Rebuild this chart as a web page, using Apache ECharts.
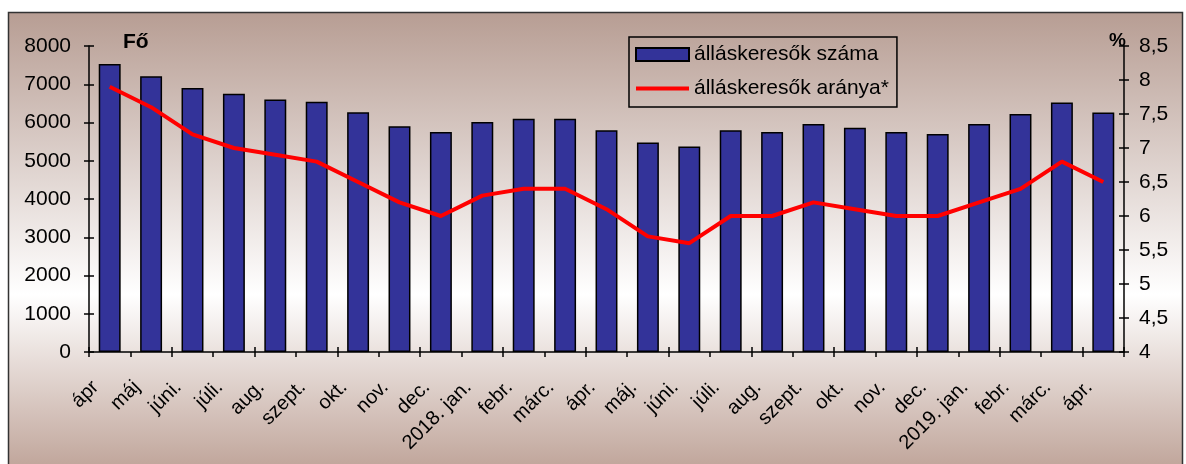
<!DOCTYPE html>
<html>
    <head>
        <meta charset="utf-8">
        <title>Álláskeresők</title>
        <script src="https://cdn.jsdelivr.net/npm/echarts@6/dist/echarts.min.js"></script>
        <style>
            html, body { margin: 0; padding: 0; background: #fff; }
        </style>
    </head>
    <body>
        <div id="chart1" style="width: 1186px;height: 464px"></div>
    </body>

    <script type="text/javascript">
        // adatok
        var honapok = ['ápr', 'máj', 'júni.', 'júli.', 'aug.', 'szept.', 'okt.', 'nov.', 'dec.', '2018. jan.',
            'febr.', 'márc.', 'ápr.', 'máj.', 'júni.', 'júli.', 'aug.', 'szept.', 'okt.', 'nov.', 'dec.',
            '2019. jan.', 'febr.', 'márc.', 'ápr.'];
        var letszam = [7530, 7210, 6900, 6750, 6600, 6540, 6270, 5900, 5750, 6010,
            6100, 6100, 5800, 5480, 5370, 5800, 5750, 5960, 5860, 5750, 5700,
            5960, 6220, 6520, 6260];
        var arany = [7.9, 7.6, 7.2, 7.0, 6.9, 6.8, 6.5, 6.2, 6.0, 6.3,
            6.4, 6.4, 6.1, 5.7, 5.6, 6.0, 6.0, 6.2, 6.1, 6.0, 6.0,
            6.2, 6.4, 6.8, 6.5];
        var nevek = ['álláskeresők száma', 'álláskeresők aránya*'];

        var font = 'Arial, "Liberation Sans", sans-serif';
        var myChart1 = echarts.init(document.getElementById('chart1'));

        var tengely = { show: true, lineStyle: { color: '#000', width: 1.5 } };
        var tick = { show: true, length: 5, lineStyle: { color: '#000', width: 1.5 } };
        var belsoTick = { show: true, inside: true, length: 5, lineStyle: { color: '#000', width: 1.5 } };

        myChart1.setOption({
            animation: false,
            graphic: [
                {
                    type: 'rect', z: -10,
                    shape: { x: 8.5, y: 12.5, width: 1174, height: 470 },
                    style: {
                        fill: new echarts.graphic.LinearGradient(0, 0, 0, 1, [
                            { offset: 0, color: '#b79d93' },
                            { offset: 0.6, color: '#ffffff' },
                            { offset: 0.98, color: '#bea297' }
                        ]),
                        stroke: '#333', lineWidth: 1.5
                    }
                },
                {
                    type: 'text', left: 123, top: 32,
                    style: { text: 'Fő', font: 'bold 21px ' + font, fill: '#000' }
                },
                {
                    type: 'text', left: 1109, top: 31,
                    style: { text: '%', font: 'bold 19px ' + font, fill: '#000' }
                }
            ],
            grid: { left: 89, right: 62, top: 46, bottom: 112, containLabel: false },
            legend: {
                orient: 'vertical',
                left: 629, top: 37,
                padding: [7, 8, 8, 6],
                itemGap: 13,
                itemWidth: 53, itemHeight: 13,
                borderColor: '#000', borderWidth: 1.5,
                textStyle: { fontFamily: font, fontSize: 21, color: '#000' },
                data: [
                    { name: nevek[0], icon: 'rect' },
                    { name: nevek[1], icon: 'path://M0,0 L53,0 L53,4 L0,4 Z', itemStyle: { color: '#ff0000', borderWidth: 0 } }
                ]
            },
            xAxis: [
                {
                    type: 'category', data: honapok,
                    axisLine: tengely,
                    axisTick: tick,
                    axisLabel: {
                        rotate: 45, fontFamily: font, fontSize: 20, color: '#000',
                        margin: 18, padding: [0, 20, 0, 0], interval: 0
                    },
                    splitLine: { show: false }
                },
                {
                    type: 'category', data: honapok, position: 'bottom',
                    axisLine: { show: false },
                    axisTick: belsoTick,
                    axisLabel: { show: false }
                }
            ],
            yAxis: [
                {
                    type: 'value', min: 0, max: 8000, interval: 1000,
                    axisLine: tengely, axisTick: tick,
                    axisLabel: {
                        fontFamily: font, fontSize: 21, color: '#000', margin: 18,
                        formatter: function (v) { return String(v); }
                    },
                    splitLine: { show: false }
                },
                {
                    type: 'value', min: 4, max: 8.5, interval: 0.5, position: 'right',
                    axisLine: tengely, axisTick: tick,
                    axisLabel: {
                        fontFamily: font, fontSize: 21, color: '#000', margin: 15,
                        formatter: function (v) { return String(v).replace('.', ','); }
                    },
                    splitLine: { show: false }
                },
                {
                    type: 'value', min: 0, max: 8000, interval: 1000, position: 'left',
                    axisLine: { show: false }, axisTick: belsoTick,
                    axisLabel: { show: false }, splitLine: { show: false }
                },
                {
                    type: 'value', min: 4, max: 8.5, interval: 0.5, position: 'right',
                    axisLine: { show: false }, axisTick: belsoTick,
                    axisLabel: { show: false }, splitLine: { show: false }
                }
            ],
            series: [
                {
                    name: nevek[0], type: 'bar', data: letszam,
                    barWidth: '53%',
                    itemStyle: { color: '#333399', borderColor: '#000', borderWidth: 1.5 }
                },
                {
                    name: nevek[1], type: 'line', data: arany, yAxisIndex: 1,
                    symbol: 'none',
                    lineStyle: { color: '#ff0000', width: 4 },
                    itemStyle: { color: '#ff0000' }
                }
            ]
        });
    </script>
</html>
